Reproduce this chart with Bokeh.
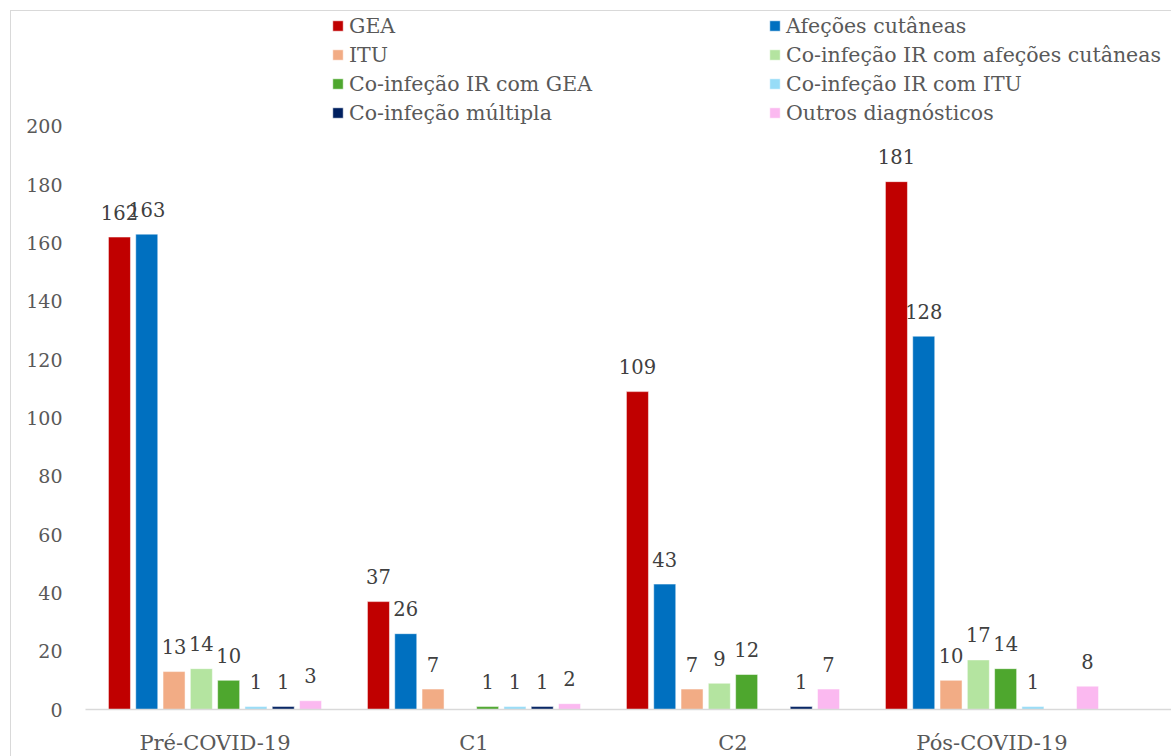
import math
from bokeh.plotting import figure
from bokeh.models import (ColumnDataSource, Range1d, FixedTicker, Legend, LegendItem)
from bokeh.core.properties import value
from bokeh.embed import file_html
from bokeh.resources import INLINE

categories = ["Pré-COVID-19", "C1", "C2", "Pós-COVID-19"]
series = ["GEA", "Afeções cutâneas", "ITU", "Co-infeção IR com afeções cutâneas",
          "Co-infeção IR com GEA", "Co-infeção IR com ITU", "Co-infeção múltipla",
          "Outros diagnósticos"]
colors = ["#C00000", "#0070C0", "#F2AC85", "#B4E4A0", "#4EA72E", "#97DCF7",
          "#002060", "#FBB9F0"]
gea = [162, 37, 109, 181]
afecoes = [163, 26, 43, 128]
itu = [13, 7, 7, 10]
co_cut = [14, None, 9, 17]
co_gea = [10, 1, 12, 14]
co_itu = [1, 1, None, 1]
multipla = [1, 1, 1, None]
outros = [3, 2, 7, 8]
values = [gea, afecoes, itu, co_cut, co_gea, co_itu, multipla, outros]
y_ticks = list(range(0, 201, 20))

FONT = "DejaVu Serif"
GRAY = "#595959"

p = figure(width=1161, height=746, output_backend="svg", toolbar_location=None,
           x_range=Range1d(0, 4.197), y_range=Range1d(0, 239),
           min_border_left=74, min_border_right=0, min_border_top=1, min_border_bottom=44)
p.margin = (10, 0, 0, 10)
p.styles = {"border-left": "1px solid #d9d9d9", "border-top": "1px solid #d9d9d9"}
p.outline_line_color = None
p.xgrid.grid_line_color = None
p.ygrid.grid_line_color = None

step = 0.1054
bw = 0.085
legend_items = []
for j, (name, col, vals) in enumerate(zip(series, colors, values)):
    xs = [i + 0.5 + (j - 3.5) * step for i in range(len(categories))]
    tops = [v if v is not None else float("nan") for v in vals]
    src = ColumnDataSource(dict(x=xs, top=tops))
    r = p.vbar(x="x", top="top", width=bw, source=src, fill_color=col,
               line_color="white", line_width=0.5)
    legend_items.append(LegendItem(label=name, renderers=[r]))
    lx = [x for x, v in zip(xs, vals) if v is not None]
    ly = [v for v in vals if v is not None]
    lt = [str(v) for v in vals if v is not None]
    p.text(x=lx, y=ly, text=lt, text_align="center", text_baseline="alphabetic",
           y_offset=-25, text_font=value(FONT), text_font_size="19.5px",
           text_color="#404040")

# Axes
p.xaxis.ticker = FixedTicker(ticks=[i + 0.5 for i in range(len(categories))])
p.xaxis.major_label_overrides = {i + 0.5: c for i, c in enumerate(categories)}
p.xaxis.major_tick_line_color = None
p.xaxis.minor_tick_line_color = None
p.xaxis.axis_line_color = "#d9d9d9"
p.xaxis.axis_line_width = 1.5
p.xaxis.major_label_text_font = FONT
p.xaxis.major_label_text_font_size = "21px"
p.xaxis.major_label_text_color = GRAY
p.xaxis.major_label_standoff = 15

p.yaxis.ticker = FixedTicker(ticks=y_ticks)
p.yaxis.axis_line_color = None
p.yaxis.major_tick_line_color = None
p.yaxis.minor_tick_line_color = None
p.yaxis.major_label_text_font = FONT
p.yaxis.major_label_text_font_size = "19px"
p.yaxis.major_label_text_color = GRAY
p.yaxis.major_label_standoff = 17

def make_legend(items, loc):
    lg = Legend(items=items, location=loc, orientation="vertical",
                glyph_width=13, glyph_height=13, label_height=25, spacing=4,
                label_standoff=5, padding=0, margin=0,
                label_text_font=FONT, label_text_font_size="20.5px",
                label_text_color=GRAY, border_line_color=None,
                background_fill_alpha=0)
    return lg

leg1 = make_legend([legend_items[k] for k in (0, 2, 4, 6)], (246, 584))
leg2 = make_legend([legend_items[k] for k in (1, 3, 5, 7)], (683, 584))
p.add_layout(leg1)
p.add_layout(leg2)

open("out.html", "w").write(file_html(p, INLINE))
